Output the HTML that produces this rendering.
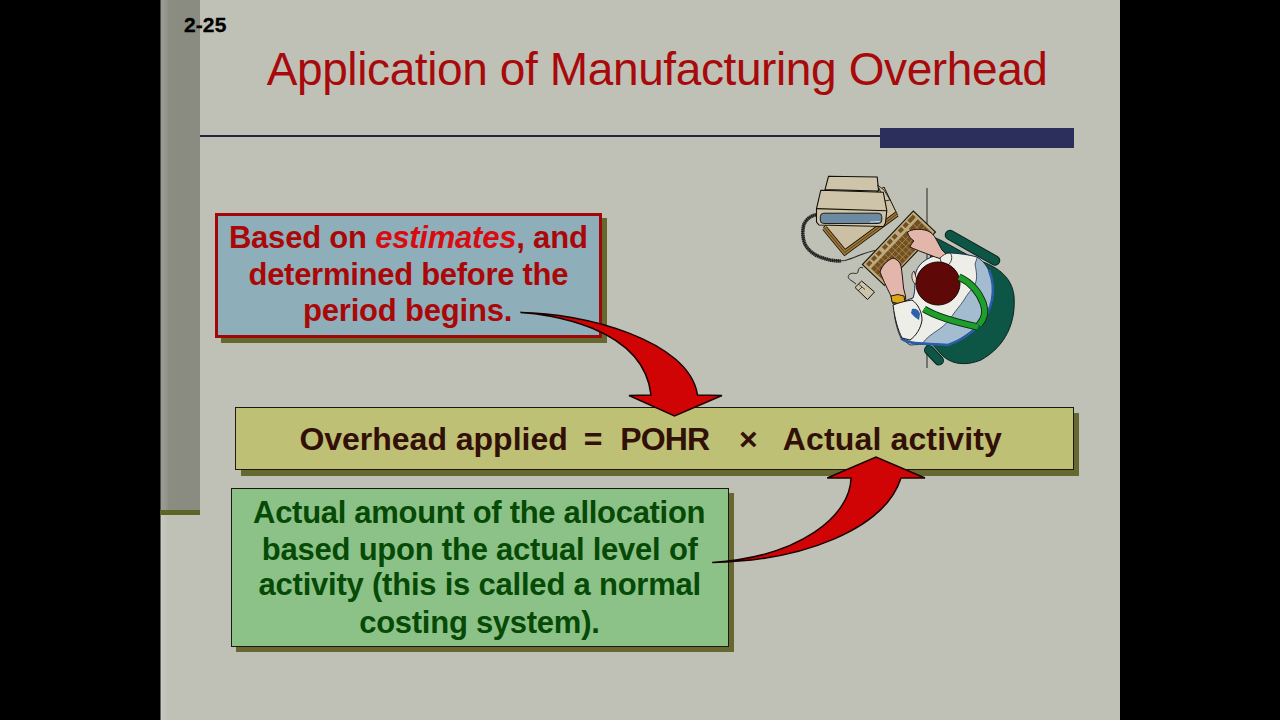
<!DOCTYPE html>
<html><head><meta charset="utf-8">
<style>
html,body{margin:0;padding:0;width:1280px;height:720px;overflow:hidden;background:#000;}
body{position:relative;font-family:"Liberation Sans",sans-serif;}
.abs{position:absolute;}
#slide{left:160px;top:0;width:960px;height:720px;background:#bfc1b7;}
#bar{left:160px;top:0;width:40px;height:510px;background:linear-gradient(to right,#9a9c94 0,#979991 5px,#8a8c82 9px,#8a8c82 100%);}
#barline{left:160px;top:510px;width:40px;height:5px;background:#5e6426;}
#num{left:184px;top:13px;font-weight:bold;font-size:21px;line-height:1;-webkit-text-stroke:0.3px currentColor;color:#000;white-space:nowrap;}
#title{left:0;top:0;white-space:nowrap;font-size:46px;color:#a80a0c;line-height:1;}
#rule{left:200px;top:135px;width:680px;height:2px;background:#22243e;}
#rulebox{left:880px;top:128px;width:194px;height:20px;background:#2c2e5c;}
.box{box-sizing:border-box;}
.shadow{background:#66682f;}
#b1s{left:221px;top:218px;width:386px;height:125px;}
#b1{left:215px;top:213px;width:387px;height:125px;background:#8eaeba;border:3px solid #a00808;}
#b2s{left:241px;top:413px;width:838px;height:63px;}
#b2{left:235px;top:407px;width:839px;height:63px;background:#bec076;border:1px solid #1a1a10;}
#b3s{left:236px;top:493px;width:498px;height:159px;}
#b3{left:231px;top:488px;width:498px;height:159px;background:#8cc288;border:1px solid #1a1a10;}
.t{position:absolute;white-space:nowrap;font-weight:bold;line-height:1;}
.red{color:#aa0808;font-size:31px;}
.grn{color:#064a06;font-size:31px;}
.brn{color:#321006;font-size:32px;}
</style><style id="pos">
#num{left:183.9px;top:14.1px;letter-spacing:0.133px;}
#title{left:266.7px;top:46.1px;letter-spacing:-0.389px;}
#l11{left:228.9px;top:221.8px;letter-spacing:-0.209px;}
#l12{left:248.5px;top:259.1px;letter-spacing:-0.28px;}
#l13{left:303.0px;top:294.6px;letter-spacing:-0.185px;}
#l21a{left:299.4px;top:422.9px;letter-spacing:-0.013px;}
#l21b{left:583.7px;top:422.9px;letter-spacing:0.6px;}
#l21c{left:620.3px;top:422.9px;letter-spacing:-0.867px;}
#l21d{left:739.0px;top:422.9px;letter-spacing:2.0px;}
#l21e{left:782.8px;top:422.9px;letter-spacing:0.143px;}
#l31{left:253.1px;top:496.7px;letter-spacing:-0.306px;}
#l32{left:261.8px;top:534.1px;letter-spacing:-0.227px;}
#l33{left:258.5px;top:569.4px;letter-spacing:-0.218px;}
#l34{left:359.2px;top:606.6px;letter-spacing:-0.267px;}
</style>
</head>
<body>
<div id="slide" class="abs"></div>
<div class="abs" style="left:161px;top:515px;width:7px;height:205px;background:linear-gradient(to right,#c8c9c2,#bfc1b7);"></div>
<div id="bar" class="abs"></div>
<div class="abs" style="left:160px;top:0;width:1px;height:720px;background:linear-gradient(to bottom,#4a4b46 0,#4a4b46 510px,#60615b 515px,#60615b 100%);"></div>
<div id="barline" class="abs"></div>
<div id="num" class="abs">2-25</div>
<div id="title" class="abs">Application of Manufacturing Overhead</div>
<div id="rule" class="abs"></div>
<div id="rulebox" class="abs"></div>

<div id="b1s" class="abs box shadow"></div>
<div id="b1" class="abs box"></div>
<div id="b2s" class="abs box shadow"></div>
<div id="b2" class="abs box"></div>
<div id="b3s" class="abs box shadow"></div>
<div id="b3" class="abs box"></div>

<svg id="art" class="abs" style="left:0;top:0" width="1280" height="720" viewBox="0 0 1280 720">
<!-- arrow 1 -->
<path d="M520.4,312.4 C582.3,312.8 689.1,339.6 697.5,395 L722,395.5 L674.5,416 L629,395.5 L651,395 C643.6,325.9 545.6,313.8 520.4,312.4 Z" fill="#d00404" stroke="#1a0000" stroke-width="1.5" stroke-linejoin="miter"/>
<!-- arrow 2 -->
<path d="M712.2,562.4 C800.6,557 850.4,515.4 851,478 L827.2,478 L876,457 L925,478 L901,478 C884.7,529 802.6,561.1 712.2,562.4 Z" fill="#d00404" stroke="#1a0000" stroke-width="1.5" stroke-linejoin="miter"/>
<!-- desk edge line -->
<line x1="927" y1="188" x2="927" y2="368" stroke="#4a4a44" stroke-width="1.3"/>
<!-- cable -->
<path d="M818,214.5 C811,215 805,220 803.5,226 C802,233 803,241 806,246 C810,252 816,256 823,258 C830,260.5 838,261.5 845,260.5 C855,258 862,253 875,250.5" fill="none" stroke="#2a2a26" stroke-width="1.2"/>
<path d="M818,214.5 C811,215 805,220 803.5,226 C802,233 803,241 806,246 C810,252 816,256 823,258 C830,260.5 836,261 841,261" fill="none" stroke="#22221e" stroke-width="3.6" stroke-dasharray="1.5 0.4"/>
<!-- base plate -->
<path d="M823.5,227 L844.5,254 L897.5,215 L884,187 Z" fill="#cbbfa4" stroke="#141008" stroke-width="1"/>
<path d="M824.5,228 L844.8,252.5 L897,214" fill="none" stroke="#1a1208" stroke-width="5.6" stroke-linejoin="miter"/>
<path d="M824.5,228 L844.8,252.5 L897,214" fill="none" stroke="#a07838" stroke-width="4" stroke-linejoin="miter"/>
<path d="M824.5,228 L844.8,252.5 L897,214" fill="none" stroke="#3a2810" stroke-width="0.7" stroke-linejoin="miter"/>
<!-- monitor top piece -->
<path d="M828.5,176.3 L877.2,177 L878.6,191 L825,189.6 Z" fill="#cdc4aa" stroke="#141008" stroke-width="1.1"/>
<path d="M877.5,185 L884,190 L890,200 L885,201 Z" fill="#cdc4aa" stroke="#141008" stroke-width="0.8"/>
<!-- monitor body -->
<path d="M820.8,190.2 L883.3,192.2 L886.8,210.5 L885.5,223 L883.5,226.5 L819,225 L816.5,222 L816.5,208.5 Z" fill="#cdc4aa" stroke="#141008" stroke-width="1.1"/>
<path d="M816.5,208.6 L886.8,210.8" fill="none" stroke="#141008" stroke-width="1.1"/>
<rect x="820.3" y="213.2" width="61.5" height="10.3" rx="3.5" fill="#6c8aa2" stroke="#141008" stroke-width="0.9"/>
<path d="M870,222 L880,221.5" stroke="#c8d8e4" stroke-width="1.2"/>
<!-- keyboard -->
<g transform="translate(862.4,264.6) rotate(-46.5)">
<rect x="0" y="0" width="74" height="30.5" fill="#bcaa80" stroke="#141008" stroke-width="1.1"/>
<g fill="#74501f">
<rect x="3" y="2.2" width="5" height="4"/><rect x="10" y="2.2" width="5" height="4"/><rect x="17" y="2.2" width="5" height="4"/><rect x="26" y="2.2" width="5" height="4"/><rect x="33" y="2.2" width="5" height="4"/><rect x="40" y="2.2" width="5" height="4"/><rect x="49" y="2.2" width="5" height="4"/><rect x="56" y="2.2" width="5" height="4"/><rect x="63" y="2.2" width="8" height="4"/>
<rect x="3" y="9" width="52" height="19.5"/>
<rect x="58" y="9" width="13" height="19.5"/>
</g>
<g stroke="#a88c5c" stroke-width="0.8">
<path d="M3,14 H55 M3,19 H55 M3,24 H55 M58,14 H71 M58,19 H71 M58,24 H71"/>
<path d="M8,9 V28.5 M13,9 V28.5 M18,9 V28.5 M23,9 V28.5 M28,9 V28.5 M33,9 V28.5 M38,9 V28.5 M43,9 V28.5 M48,9 V28.5 M64.5,9 V28.5"/>
</g>
</g>
<!-- mouse cord -->
<path d="M863,268 C860,266 858,269 858,272 C857,275 853,272 850,274 C847,276 848,279 852,281 L856,284" fill="none" stroke="#2a2a26" stroke-width="1"/>
<!-- mouse -->
<path d="M855,287.5 L861.7,281 L874.5,292 L867.5,299.5 Z" fill="#cdc4aa" stroke="#141008" stroke-width="1"/>
<path d="M858.5,284 L865,289.5 M862,287 L858,291" stroke="#141008" stroke-width="0.7"/>
<!-- chair -->
<path d="M950,235 L995,260.5" stroke="#0a221c" stroke-width="10.5" stroke-linecap="round"/>
<path d="M950,235 L995,260.5" stroke="#0d5646" stroke-width="8.5" stroke-linecap="round"/>
<path d="M929,350 L939,360.5" stroke="#0a221c" stroke-width="10" stroke-linecap="round"/>
<path d="M929,350 L939,360.5" stroke="#0d5646" stroke-width="8" stroke-linecap="round"/>
<path d="M933,237 C945,241 963,254 983,262 C999,268 1012,278 1014,296 C1016,322 1006,346 981,360 C966,366 951,365 941,354 L931,343 L925,300 Z" fill="#0d5646" stroke="#0a221c" stroke-width="1"/>
<!-- shirt -->
<path d="M948,253 C958,253 970,255 977,257 C985,262 990,270 992.5,282 C994,292 993,302 990,309 C986,317 980,324 970,332 C962,338 955,342 948,345 C938,344 922,344 910,345 L901,338 C898,332 895,322 894,311 C899,305 905,300 913,298 C916,290 914,280 916,272 C919,262 930,255 948,253 Z" fill="#eeeee8" stroke="#1a2a50" stroke-width="1"/>
<path d="M977,257 C985,262 990,270 992.5,282 C994,292 993,302 990,309 C986,317 980,324 970,332 C962,338 955,342 948,345 C940,344 930,344 922,344 C926,338 932,334 938,330 C944,326 948,322 952,316 C956,310 960,306 964,300 C967,294 972,290 975,284 C978,278 976,270 975,264 C976,261 977,259 977,257 Z" fill="#a4bcd0" stroke="#1a2440" stroke-width="0.7"/>
<path d="M901,338 C908,345 925,343 948,345 C960,341 972,333 980,324 C986,317 990,310 992,300 C994,290 993,280 989,270" fill="none" stroke="#2a5ea8" stroke-width="2.6"/>
<!-- right arm -->
<path d="M907.5,232 C912,229 920,228.5 927,230.6 C931,232 934,235 936,239 L942,250 L947,255 C946,258 943,259 940,258.5 C934,257 928,254 922,252 C917,250 912,248 910,247 C911,244 913,242 914,241 C911,239 908,236 907.5,232 Z" fill="#e2b6aa" stroke="#1e1410" stroke-width="1"/>
<path d="M940,258 C943,255 946,253 950,253 C953,256 952,262 948,265 L941,262 Z" fill="#eeeee8" stroke="#1e1410" stroke-width="0.8"/>
<!-- left arm -->
<path d="M880,272 C882,266 886,261 893,258 C897,259 900,262 901,266 C902,272 903,282 903.5,288 L905.5,296 L906,303 L893,304 L891,296 C888,290 884,282 880,272 Z" fill="#e2b6aa" stroke="#1e1410" stroke-width="1"/>
<path d="M891,296 L898,294.5 L904,296 L905,302 L898,303.5 L892,302 Z" fill="#d8a818" stroke="#1e1410" stroke-width="1"/>
<path d="M893,305 C898,303 905,301 912,300 C918,304 922,312 922,320 C921,328 916,336 910,340 L902,338 C898,330 895,320 893,305 Z" fill="#eeeee8" stroke="#1e1410" stroke-width="1"/>
<path d="M912,309 C916,308 919,310 920,314 L919,320 C916,318 913,316 911,313 Z" fill="#2a62ae"/>
<!-- head -->
<path d="M914,271 C911,273 911,280 915,284 L918,283 Z" fill="#e8d8d0" stroke="#1e1410" stroke-width="0.8"/>
<ellipse cx="938" cy="283.5" rx="22" ry="21.5" fill="#5e0808" stroke="#1a0404" stroke-width="1"/>
<!-- suspenders -->
<path d="M959,277 C970,282 979,292 983.5,304 C986,312 985,318 979,325" fill="none" stroke="#0c2a10" stroke-width="7.2" stroke-linecap="butt"/>
<path d="M924,309 C935,316 955,322 978,327" fill="none" stroke="#0c2a10" stroke-width="7.2"/>
<path d="M959,277 C970,282 979,292 983.5,304 C986,312 985,318 979,325" fill="none" stroke="#1e9e2a" stroke-width="5.4"/>
<path d="M924,309 C935,316 955,322 978,327" fill="none" stroke="#1e9e2a" stroke-width="5.4"/>
</svg>

<div id="l11" class="t red">Based on <i style="color:#d80c10">estimates</i>, and</div>
<div id="l12" class="t red">determined before the</div>
<div id="l13" class="t red">period begins.</div>

<div id="l21a" class="t brn">Overhead applied</div>
<div id="l21b" class="t brn">=</div>
<div id="l21c" class="t brn">POHR</div>
<div id="l21d" class="t brn">×</div>
<div id="l21e" class="t brn">Actual activity</div>

<div id="l31" class="t grn">Actual amount of the allocation</div>
<div id="l32" class="t grn">based upon the actual level of</div>
<div id="l33" class="t grn">activity (this is called a normal</div>
<div id="l34" class="t grn">costing system).</div>

</body></html>
